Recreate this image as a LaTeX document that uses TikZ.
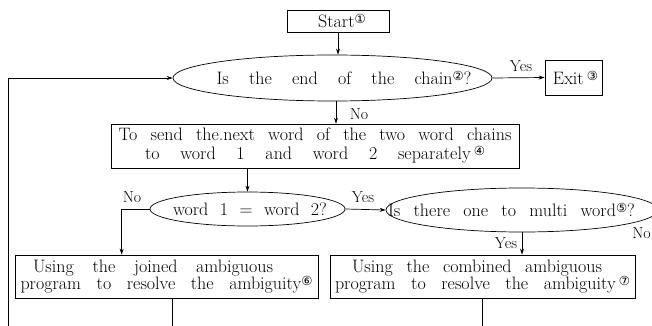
\documentclass[tikz,border=0pt]{standalone}
\usepackage{fontspec}
\newfontfamily\cfont{DejaVu Sans}
\usetikzlibrary{shapes.geometric,arrows.meta}
\newcommand\cnum[1]{\raisebox{4pt}{\cfont\fontsize{12.5}{12.5}\selectfont #1}}
\newcommand\wfont{\fontsize{18}{17}\selectfont}
\newcommand\lfont{\fontsize{16}{16}\selectfont}
\begin{document}
\begin{tikzpicture}[x=1pt,y=-1pt,
  box/.style={draw, line width=0.7pt, inner sep=0pt, align=center, font=\wfont},
  ell/.style={draw, ellipse, line width=0.7pt, inner sep=0pt, font=\wfont},
  lbl/.style={inner sep=0pt, font=\lfont},
  arr/.style={line width=0.7pt, -{Stealth[length=6pt,width=4pt]}},
  ln/.style={line width=0.7pt}]
\fill[white] (0,0) rectangle (652,326);
\useasboundingbox (0,0) rectangle (652,326);

\node[box, minimum width=102pt, minimum height=22pt] (start) at (338,21) {\hspace*{8pt}Start\cnum{①}};
\node[ell, minimum width=319pt, minimum height=46pt] (e1) at (332.5,78)
  {\makebox[0pt]{\hspace*{23pt}\makebox[255pt][s]{Is the end of the chain\cnum{②}?}}};
\node[box, minimum width=57pt, minimum height=35pt] (exit) at (573.5,77.5) {\hspace*{4pt}Exit\,\cnum{③}};
\node[box, minimum width=408pt, minimum height=44pt] (box4) at (315,146)
  {\makebox[393pt][s]{To send the.next word of the two word chains}\\[2pt]
   \makebox[340pt][s]{to word 1 and word 2 separately\,\cnum{④}}};
\node[ell, minimum width=195pt, minimum height=34pt] (e2) at (247.5,209)
  {\makebox[0pt]{\hspace*{5pt}\makebox[154pt][s]{word 1 = word 2?}}};
\node[ell, minimum width=272pt, minimum height=44pt] (e3) at (522,210)
  {\makebox[0pt]{\hspace*{-21pt}\makebox[247pt][s]{Is there one to multi word\cnum{⑤}?}}};
\node[box, minimum width=303pt, minimum height=43pt] (box6) at (166.5,276.5)
  {\makebox[240pt][s]{Using the joined ambiguous}\hspace*{27pt}\\
   \makebox[292pt][s]{program to resolve the ambiguity\cnum{⑥}}};
\node[box, minimum width=305pt, minimum height=43pt] (box7) at (482.5,276.5)
  {\makebox[250pt][s]{Using the combined ambiguous}\hspace*{11pt}\\
   \makebox[295pt][s]{program to resolve the ambiguity\,\cnum{⑦}}};

\node[lbl] (y1) at (521,66) {Yes};
\node[lbl] (n1) at (359,114) {No};
\node[lbl] (n2) at (132,197) {No};
\node[lbl] (y2) at (363,197) {Yes};
\node[lbl] (y3) at (506,243) {Yes};
\node[lbl, anchor=east] (n3) at (651,233) {No};

\coordinate (lp) at (8,326);
\coordinate (b6) at (172,326);
\coordinate (b7) at (482,326);

\draw[arr] (start.south) -- (start.south |- e1.north);
\draw[arr] (e1.east) -- (exit.west);
\draw[arr] ([xshift=3.5pt]e1.south) -- ([xshift=3.5pt]e1.south |- box4.north);
\draw[arr] (box4.south -| e2.north) -- (e2.north);
\draw[arr] (e2.west) -- ++(-28,0) coordinate (k) -- (k |- box6.north);
\draw[arr] (e2.east) -- (e3.west);
\draw[arr] (e3.south) -- (e3.south |- box7.north);
\draw[ln] (box6.south -| b6) -- (b6);
\draw[ln] (box7.south -| b7) -- (b7);
\draw[arr] (lp) |- (e1.west);
\end{tikzpicture}
\end{document}
